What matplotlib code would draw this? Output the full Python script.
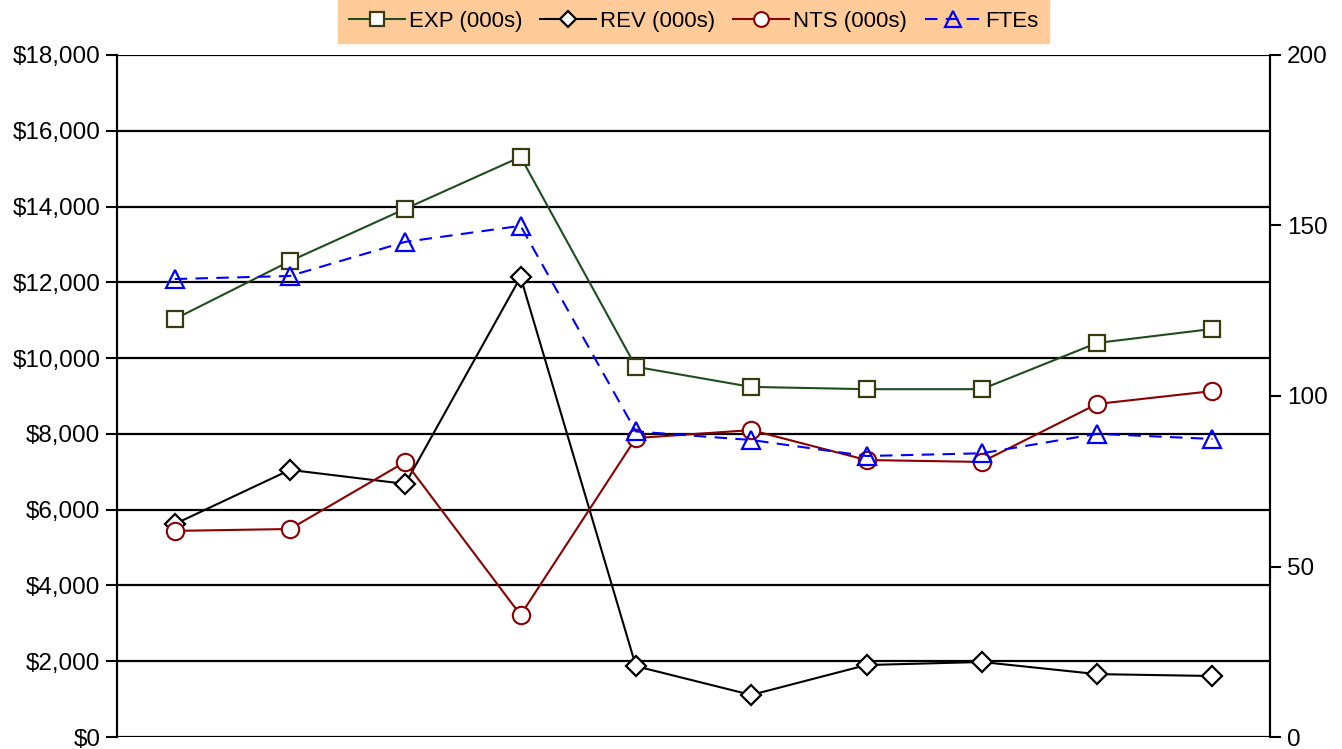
import matplotlib.pyplot as plt
from matplotlib.ticker import FuncFormatter

plt.rcParams['font.family'] = ['Liberation Sans', 'DejaVu Sans']

# values
periods = list(range(10))
exp_k = [11030, 12560, 13940, 15310, 9770, 9240, 9180, 9180, 10400, 10770]
rev_k = [5620, 7050, 6680, 12140, 1870, 1110, 1900, 1980, 1660, 1610]
nts_k = [5440, 5490, 7260, 3220, 7890, 8100, 7310, 7260, 8790, 9130]
ftes = [134.3, 135.2, 145.2, 149.9, 89.6, 87.1, 82.4, 83.2, 88.9, 87.4]

fig = plt.figure(figsize=(13.42, 7.49), dpi=100)
ax = fig.add_axes([0.0872, 0.016, 0.8592, 0.9106])
ax2 = ax.twinx()

l1, = ax.plot(periods, exp_k, color='#1E4D1E', lw=1.5, marker='s', ms=12,
              mfc='white', mec='#3A3A10', mew=1.6, label='EXP (000s)', zorder=3)
l2, = ax.plot(periods, rev_k, color='black', lw=1.5, marker='D', ms=10,
              mfc='white', mec='black', mew=1.6, label='REV (000s)', zorder=3)
l3, = ax.plot(periods, nts_k, color='#8B0000', lw=1.5, marker='o', ms=12.5,
              mfc='white', mec='#8B0000', mew=1.5, label='NTS (000s)', zorder=3)
l4, = ax2.plot(periods, ftes, color='#0000FF', lw=1.5, ls=(0, (6, 4)), marker='^', ms=13,
               mfc='none', mec='#0000FF', mew=1.6, label='FTEs', zorder=3)

ax.set_xlim(-0.5, 9.5)
ax.set_ylim(0, 18000)
ax.set_yticks(range(0, 18001, 2000))
ax.yaxis.set_major_formatter(FuncFormatter(lambda v, p: '${:,.0f}'.format(v)))
ax.set_xticks([])
ax.grid(axis='y', color='black', lw=1.6)
ax.set_axisbelow(True)
ax.tick_params(axis='y', direction='out', length=8, width=1.5, labelsize=17.5, pad=4)

ax2.set_ylim(0, 200)
ax2.set_yticks(range(0, 201, 50))
ax2.tick_params(axis='y', direction='out', length=8, width=1.5, labelsize=17.5, pad=4)

for a in (ax, ax2):
    a.spines['top'].set_visible(False)
    a.spines['bottom'].set_visible(False)
    a.spines['left'].set_linewidth(1.5)
    a.spines['right'].set_linewidth(1.5)

leg = fig.legend(handles=[l1, l2, l3, l4], loc='upper center', bbox_to_anchor=(0.5168, 1.0),
                 ncol=4, frameon=True, fancybox=False, fontsize=16, handlelength=2.5,
                 handletextpad=0.2, columnspacing=0.8, borderpad=0.5, borderaxespad=0,
                 markerscale=0.85)
leg.get_frame().set_facecolor('#FFCC99')
leg.get_frame().set_edgecolor('#FFCC99')
leg.get_frame().set_alpha(1)

fig.savefig('out.png', dpi=100)
